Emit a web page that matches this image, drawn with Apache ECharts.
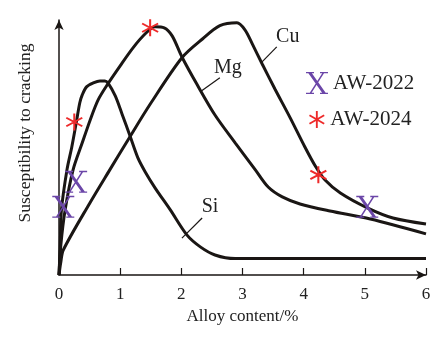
<!DOCTYPE html>
<html>
<head>
<meta charset="utf-8">
<script src="https://cdn.jsdelivr.net/npm/echarts@6/dist/echarts.min.js"></script>
<style>
  html, body { margin: 0; padding: 0; background: #fff; }
  #chart { width: 438px; height: 340px; }
</style>
</head>
<body>
<div id="chart"></div>
<script>
// valeurs (x = teneur en %, y = sensibilité, échelle arbitraire)
const xTicks = [0, 1, 2, 3, 4, 5, 6];

const siCurve = [
  [0, 0], [0.02, 11.5], [0.04, 25], [0.13, 40.4], [0.21, 49.3], [0.29, 59.6],
  [0.34, 66.2], [0.38, 69.2], [0.45, 72.3], [0.56, 73.8], [0.67, 74.6], [0.75, 74.6],
  [0.8, 73.8], [0.92, 68.8], [1.03, 61.9], [1.16, 53.5], [1.29, 45], [1.41, 39.6],
  [1.57, 33.5], [1.82, 25], [2.09, 15.4], [2.31, 10.8], [2.55, 7.7], [2.88, 6.3],
  [6.0, 6.3]
];
const mgCurve = [
  [0, 0], [0.03, 11.5], [0.1, 25], [0.23, 40.4], [0.38, 50.8], [0.51, 59.6],
  [0.64, 67.3], [0.8, 73.5], [1.0, 80.4], [1.21, 87.3], [1.41, 92.7], [1.57, 95.4],
  [1.72, 95], [1.85, 91.9], [2.01, 83.8], [2.26, 73.1], [2.55, 61.5], [2.88, 50.8],
  [3.21, 40.4], [3.42, 33.8], [3.65, 30], [3.94, 27.3], [4.43, 24.6], [5.09, 21.5],
  [6.0, 15.8]
];
const cuCurve = [
  [0, 0], [0.03, 5], [0.07, 9.6], [0.5, 27.5], [0.83, 40.4], [1.13, 52],
  [1.5, 66], [2.01, 83.5], [2.35, 90.8], [2.63, 95.8], [2.91, 96.9], [3.04, 94.2],
  [3.16, 88.8], [3.32, 81.2], [3.53, 71.5], [3.78, 60.4], [4.02, 49.2], [4.19, 41.9],
  [4.35, 36.5], [4.6, 31.5], [5.04, 25.8], [5.46, 21.9], [6.0, 19.6]
];
const aw2022 = [[0.07, 26.2], [0.28, 35.8], [5.04, 26.2]];
const aw2024 = [[0.25, 58.8], [1.49, 95], [4.24, 38.5]];

const serif = 'Liberation Serif';
const ink = '#1a1614';
const purple = '#6b46a8';
const red = '#ee2a2a';

// symboles dessinés à la main
const xSymbol = 'path://M1.5,0L5,0L20.5,22L17,22ZM17,0L18.8,0L4.8,22L3,22Z' +
  'M0,0L8,0L8,1.3L0,1.3ZM14,0L22,0L22,1.3L14,1.3Z' +
  'M0,20.7L8,20.7L8,22L0,22ZM14,20.7L22,20.7L22,22L14,22Z';
const starSymbol = 'path://M-1.1,-10L1.1,-10L1.1,10L-1.1,10Z' +
  'M8.11,5.95L-9.21,-4.05L-8.11,-5.95L9.21,4.05Z' +
  'M9.21,-4.05L-8.11,5.95L-9.21,4.05L8.11,-5.95Z';

function curve(name, data, leader, labelAt) {
  return {
    name: name,
    type: 'line',
    data: data,
    smooth: 0.3,
    showSymbol: false,
    lineStyle: { color: ink, width: 3 },
    markLine: {
      silent: true,
      symbol: 'none',
      label: { show: false },
      lineStyle: { color: ink, width: 1.2, type: 'solid' },
      data: [[{ coord: leader[0] }, { coord: leader[1] }]]
    },
    markPoint: {
      silent: true,
      symbol: 'circle',
      symbolSize: 1,
      itemStyle: { color: 'rgba(0,0,0,0)' },
      label: {
        show: true, position: 'inside', formatter: name,
        fontFamily: serif, fontSize: 20, color: '#222'
      },
      data: [{ coord: labelAt }]
    }
  };
}

var dom = document.getElementById('chart');
var myChart = echarts.init(dom, null, { renderer: 'canvas' });

const option = {
  animation: false,
  backgroundColor: '#fff',
  grid: { left: 59, right: 12, top: 20, bottom: 65 },
  legend: [
    {
      data: [{ name: 'AW-2022', icon: xSymbol }],
      left: 301, top: 67,
      itemWidth: 22, itemHeight: 22,
      textStyle: { fontFamily: serif, fontSize: 21, color: '#222' }
    },
    {
      data: [{ name: 'AW-2024', icon: starSymbol }],
      left: 304, top: 104,
      itemWidth: 17, itemHeight: 17,
      textStyle: { fontFamily: serif, fontSize: 21, color: '#222' }
    }
  ],
  xAxis: {
    type: 'value',
    min: xTicks[0],
    max: xTicks[xTicks.length - 1],
    interval: 1,
    name: 'Alloy content/%',
    nameLocation: 'middle',
    nameGap: 29,
    nameTextStyle: { fontFamily: serif, fontSize: 17, color: '#222' },
    axisLine: {
      lineStyle: { color: ink, width: 1.5 },
      symbol: ['none', 'arrow'],
      symbolSize: [7, 10]
    },
    axisTick: { inside: true, length: 7, lineStyle: { color: ink, width: 1.2 } },
    axisLabel: { fontFamily: serif, fontSize: 17, color: '#222', margin: 11 },
    splitLine: { show: false }
  },
  yAxis: {
    type: 'value',
    min: 0,
    max: 98,
    axisLine: {
      show: true,
      lineStyle: { color: ink, width: 1.5 },
      symbol: ['none', 'arrow'],
      symbolSize: [7, 10]
    },
    axisTick: { show: false },
    axisLabel: { show: false },
    splitLine: { show: false }
  },
  graphic: [
    {
      type: 'text',
      x: 25, y: 133,
      rotation: Math.PI / 2,
      style: {
        text: 'Susceptibility to cracking',
        font: '17.5px "Liberation Serif"',
        fill: '#222',
        textAlign: 'center',
        textVerticalAlign: 'middle'
      }
    }
  ],
  series: [
    curve('Si', siCurve, [[2.01, 14.2], [2.34, 21.9]], [2.47, 26.2]),
    curve('Mg', mgCurve, [[2.31, 70.4], [2.63, 75.8]], [2.76, 79.6]),
    curve('Cu', cuCurve, [[3.32, 81.9], [3.56, 87.7]], [3.74, 91.5]),
    {
      name: 'AW-2022',
      type: 'scatter',
      data: aw2022,
      symbol: xSymbol,
      symbolSize: 22,
      itemStyle: { color: purple, opacity: 1 },
      z: 5
    },
    {
      name: 'AW-2024',
      type: 'scatter',
      data: aw2024,
      symbol: starSymbol,
      symbolSize: 17,
      itemStyle: { color: red, opacity: 1 },
      z: 5
    }
  ]
};

myChart.setOption(option);
window.addEventListener('resize', myChart.resize);
</script>
</body>
</html>
